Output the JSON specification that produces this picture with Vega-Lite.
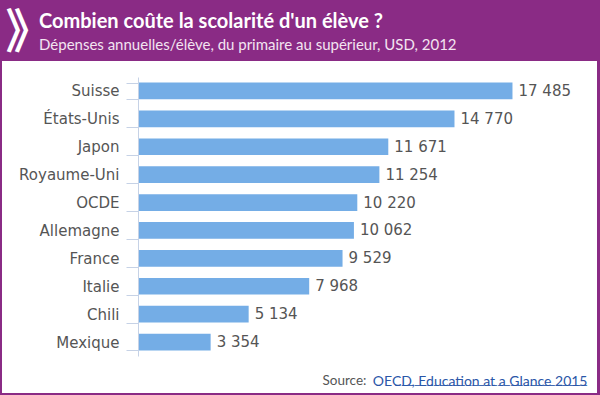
{
  "$schema": "https://vega.github.io/schema/vega-lite/v6.json",
  "width": 595,
  "height": 332,
  "autosize": {"type": "none"},
  "padding": {"left": 2, "right": 3, "top": 61, "bottom": 2},
  "background": "#8a2b85",
  "view": {"fill": "#ffffff", "stroke": null},
  "config": {
    "locale": {"number": {"decimal": ",", "thousands": " ", "grouping": [3], "currency": ["", ""]}},
    "axis": {"grid": false}
  },
  "title": {
    "text": "Combien coûte la scolarité d'un élève ?",
    "subtitle": "Dépenses annuelles/élève, du primaire au supérieur, USD, 2012",
    "anchor": "start",
    "frame": "group",
    "dx": 37,
    "offset": -44,
    "font": "Lato",
    "fontSize": 20,
    "fontWeight": "bold",
    "color": "#ffffff",
    "subtitleFont": "Lato",
    "subtitleFontSize": 15,
    "subtitleColor": "#f3e4f1",
    "subtitlePadding": 6
  },
  "data": {
    "values": [
      {"pays": "Suisse", "depense": 17485},
      {"pays": "États-Unis", "depense": 14770},
      {"pays": "Japon", "depense": 11671},
      {"pays": "Royaume-Uni", "depense": 11254},
      {"pays": "OCDE", "depense": 10220},
      {"pays": "Allemagne", "depense": 10062},
      {"pays": "France", "depense": 9529},
      {"pays": "Italie", "depense": 7968},
      {"pays": "Chili", "depense": 5134},
      {"pays": "Mexique", "depense": 3354}
    ]
  },
  "resolve": {"axis": {"x": "independent", "y": "independent"}},
  "layer": [
    {
      "mark": {"type": "bar", "color": "#74ade6"},
      "encoding": {
        "y": {
          "field": "pays",
          "type": "nominal",
          "sort": null,
          "scale": {"range": [16, 295], "paddingInner": 0.4, "paddingOuter": 0.2},
          "axis": {
            "orient": "left",
            "offset": -136,
            "tickBand": "extent",
            "tickSize": 12,
            "tickColor": "#c6d2e6",
            "domainColor": "#c6d2e6",
            "labelPadding": 7,
            "labelFont": "DejaVu Sans",
            "labelFontSize": 15,
            "labelColor": "#555555",
            "title": "Source:",
            "titleAngle": 0,
            "titleX": 184,
            "titleY": 323,
            "titleAlign": "left",
            "titleBaseline": "alphabetic",
            "titleFont": "Lato",
            "titleFontSize": 13.5,
            "titleFontWeight": "normal",
            "titleColor": "#555555"
          }
        },
        "x": {
          "field": "depense",
          "type": "quantitative",
          "scale": {"domain": [-6414, 21442], "nice": false, "zero": false},
          "axis": {
            "orient": "bottom",
            "labels": false,
            "ticks": false,
            "domain": false,
            "title": "OECD, Education at a Glance 2015",
            "titleX": 585,
            "titleY": -8,
            "titleAlign": "right",
            "titleAnchor": null,
            "titleBaseline": "alphabetic",
            "titleFont": "Lato",
            "titleFontSize": 14,
            "titleFontWeight": "normal",
            "titleColor": "#2a56a8"
          }
        }
      }
    },
    {
      "mark": {"type": "text", "align": "left", "baseline": "middle", "dx": 6, "font": "DejaVu Sans", "fontSize": 15, "color": "#555555"},
      "encoding": {
        "y": {
          "field": "pays",
          "type": "nominal",
          "sort": null,
          "axis": {
            "orient": "right",
            "labels": false,
            "ticks": false,
            "domain": false,
            "title": "______________________________",
            "titleAngle": 0,
            "titleX": -10,
            "titleY": 322,
            "titleAlign": "right",
            "titleBaseline": "alphabetic",
            "titleAnchor": null,
            "titleFont": "Lato",
            "titleFontSize": 14,
            "titleFontWeight": "normal",
            "titleColor": "#2a56a8"
          }
        },
        "x": {
          "field": "depense",
          "type": "quantitative",
          "axis": {
            "orient": "top",
            "labels": false,
            "ticks": false,
            "domain": false,
            "title": "》",
            "titleX": 3,
            "titleY": -28,
            "titleAlign": "left",
            "titleBaseline": "middle",
            "titleAnchor": null,
            "titleFont": "Noto Sans CJK JP",
            "titleFontSize": 47,
            "titleFontWeight": "bold",
            "titleColor": "#ffffff"
          }
        },
        "text": {"field": "depense", "type": "quantitative", "format": ",d"}
      }
    }
  ]
}
